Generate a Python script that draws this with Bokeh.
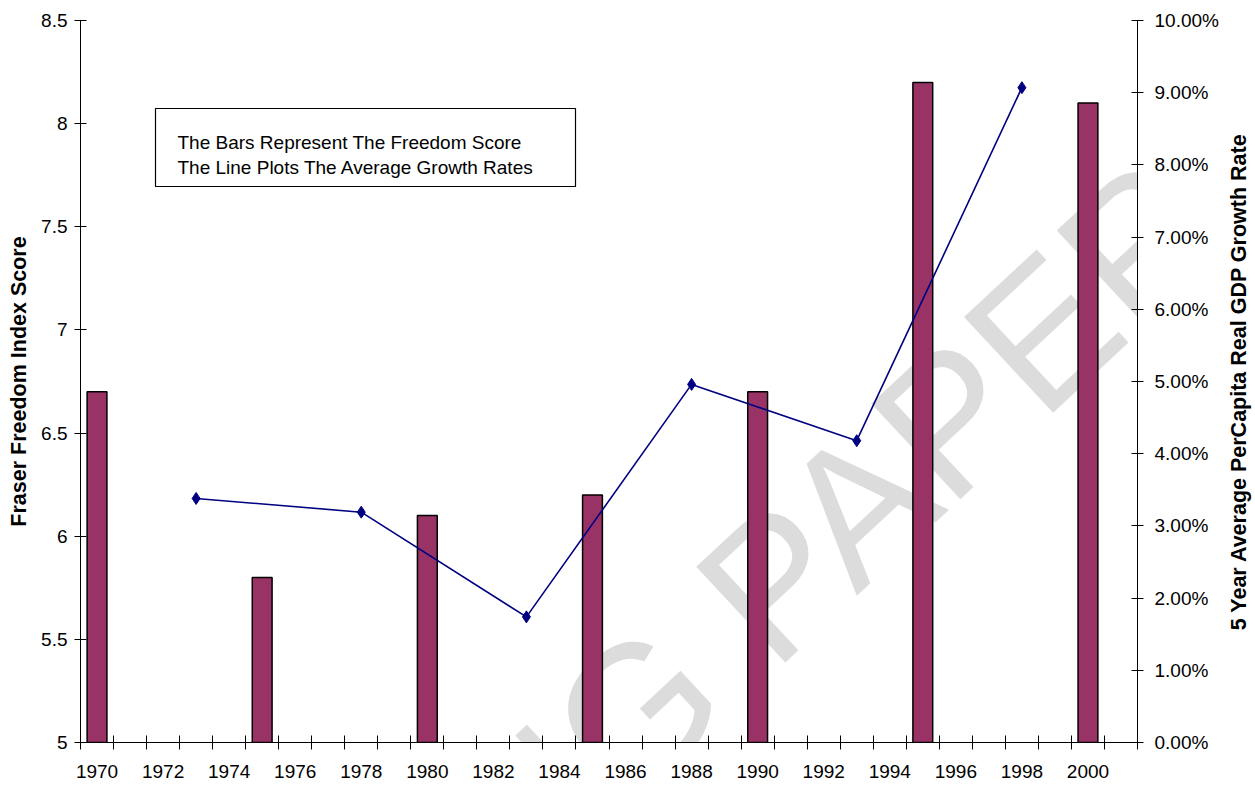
import math
from bokeh.plotting import figure
from bokeh.models import (Range1d, LinearAxis, FixedTicker, CustomJSTickFormatter,
                          BoxAnnotation, Label)
from bokeh.embed import file_html
from bokeh.resources import INLINE

# ---------------- data ----------------
bar_years = [1970, 1975, 1980, 1985, 1990, 1995, 2000]
freedom_score = [6.7, 5.8, 6.1, 6.2, 6.7, 8.2, 8.1]
growth_years = [1973, 1978, 1983, 1988, 1993, 1998]
growth_rate = [3.38, 3.19, 1.74, 4.96, 4.18, 9.07]  # percent

x_label_years = list(range(1970, 2001, 2))
x_category_edges = [y - 0.5 for y in range(1970, 2003)]
left_ticks = [5, 5.5, 6, 6.5, 7, 7.5, 8, 8.5]
right_ticks = [0, 1, 2, 3, 4, 5, 6, 7, 8, 9, 10]

left_title = "Fraser Freedom Index Score"
right_title = "5 Year Average PerCapita Real GDP Growth Rate"
note_lines = ["The Bars Represent The Freedom Score",
              "The Line Plots The Average Growth Rates"]
watermark_text = "WORKING PAPER"

FONT = "Liberation Sans"

# ---------------- figure ----------------
W, H = 1255, 785
FL, FR, FT, FB = 80, 1137, 20, 742   # frame edges in page pixels
p = figure(width=W, height=H,
           x_range=Range1d(1969.5, 2001.5), y_range=Range1d(5, 8.5),
           output_backend="svg", toolbar_location=None,
           min_border_left=FL, min_border_right=W - FR,
           min_border_top=FT, min_border_bottom=H - FB)
p.outline_line_color = None
p.xgrid.visible = False
p.ygrid.visible = False
p.background_fill_color = "white"
p.border_fill_color = "white"

# helpers mapping page pixels to data coords (layout only)
def rx(px):
    return 1969.5 + (px - FL) / (FR - FL) * 32.0

def ry(py):
    return 8.5 - (py - FT) / (FB - FT) * 3.5

# watermark
wm = Label(x=rx(600), y=ry(744), text=watermark_text, angle=43, angle_units="deg",
           text_align="center", text_baseline="middle",
           text_font=FONT, text_font_size="190px", text_color="#dcdcdc",
           level="underlay")
p.add_layout(wm)

# x axis
xa = p.xaxis[0]
xa.ticker = FixedTicker(ticks=x_label_years, minor_ticks=x_category_edges)
xa.major_tick_line_color = None
xa.major_tick_in = 0
xa.major_tick_out = 7
xa.minor_tick_in = 7
xa.minor_tick_out = 7
xa.minor_tick_line_color = "black"
xa.axis_line_color = "black"
xa.major_label_standoff = 15
xa.major_label_text_font = FONT
xa.major_label_text_font_size = "19px"
xa.major_label_text_color = "black"

# left y axis
ya = p.yaxis[0]
ya.ticker = FixedTicker(ticks=left_ticks)
ya.formatter = CustomJSTickFormatter(code="return String(tick);")
ya.major_tick_in = 6
ya.major_tick_out = 6
ya.minor_tick_line_color = None
ya.axis_line_color = "black"
ya.major_tick_line_color = "black"
ya.major_label_standoff = 7
ya.major_label_text_font = FONT
ya.major_label_text_font_size = "19px"
ya.major_label_text_color = "black"
ya.axis_label = left_title
ya.axis_label_text_font = FONT
ya.axis_label_text_font_style = "bold"
ya.axis_label_text_font_size = "21.5px"
ya.axis_label_text_color = "black"
ya.axis_label_standoff = 7

# right y axis
p.extra_y_ranges = {"pct": Range1d(0, 10)}
ra = LinearAxis(y_range_name="pct", ticker=FixedTicker(ticks=right_ticks),
                formatter=CustomJSTickFormatter(code="return tick.toFixed(2) + '%';"))
ra.major_tick_in = 6
ra.major_tick_out = 6
ra.minor_tick_line_color = None
ra.axis_line_color = "black"
ra.major_tick_line_color = "black"
ra.major_label_standoff = 11
ra.major_label_text_font = FONT
ra.major_label_text_font_size = "19px"
ra.major_label_text_color = "black"
p.add_layout(ra, "right")

# right axis title, reading bottom-to-top (placed in the right side panel)
rt = Label(x=rx(1238), y=ry(381), text=right_title, angle=90, angle_units="deg",
           text_align="center", text_baseline="middle",
           text_font=FONT, text_font_style="bold", text_font_size="21.5px",
           text_color="black")
p.add_layout(rt, "right")

# bars
p.vbar(x=bar_years, top=freedom_score, bottom=5, width=0.6,
       fill_color="#993366", line_color="black", line_width=1.5)

# growth line
p.line(x=growth_years, y=growth_rate, y_range_name="pct",
       line_color="#000080", line_width=1.6)
p.scatter(x=growth_years, y=growth_rate, y_range_name="pct", marker="diamond",
          size=12, fill_color="#000080", line_color="#000080")

# note box
box = BoxAnnotation(left=rx(155), right=rx(575), top=ry(108), bottom=ry(186),
                    fill_color="white", fill_alpha=1.0,
                    line_color="black", line_width=1.2, line_alpha=1.0)
p.add_layout(box)
for i, txt in enumerate(note_lines):
    p.add_layout(Label(x=rx(177), y=ry(141.5 + 25 * i), text=txt,
                       text_baseline="alphabetic", text_align="left",
                       text_font=FONT, text_font_size="19px", text_color="black"))

open("out.html", "w").write(file_html(p, INLINE))
